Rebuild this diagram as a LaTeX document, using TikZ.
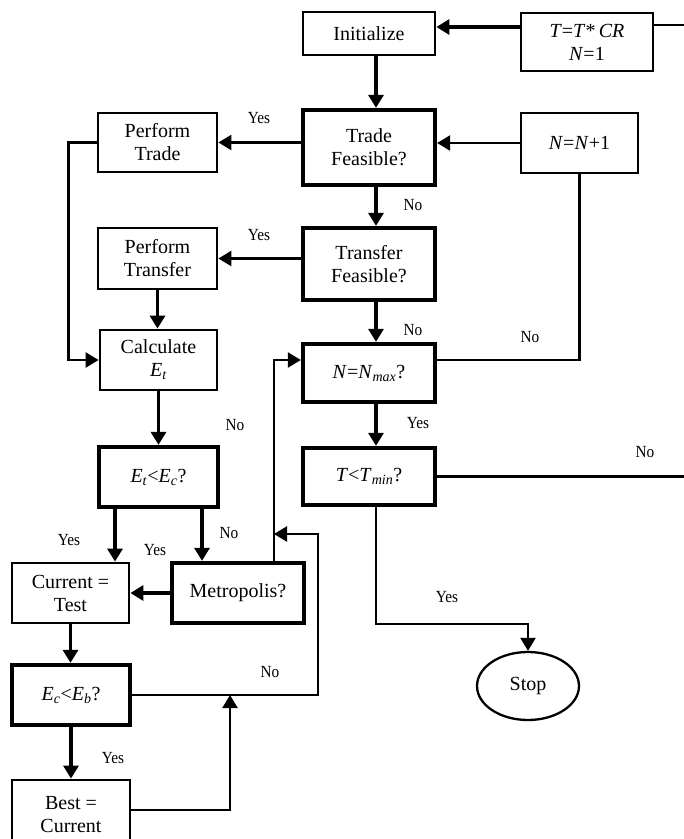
\documentclass[tikz,border=0pt]{standalone}
\usepackage{fontspec}
\setmainfont{Liberation Serif}
\newfontfamily\branchfont[FakeStretch=0.9]{Liberation Serif}
\usetikzlibrary{arrows.meta,shapes.geometric}
\begin{document}
\begin{tikzpicture}[x=1pt,y=-1pt,
  box/.style={draw, rectangle, line width=2.8pt, align=center, inner sep=2pt,
    font=\fontsize{20}{23}\selectfont},
  dbox/.style={box, line width=4.3pt},
  tip/.style={-{Triangle[length=13pt,width=15pt]}},
  flow/.style={line width=3.2pt, tip},
  loop/.style={line width=2.3pt, tip},
  plain/.style={line width=2.3pt},
  lbl/.style={font=\branchfont\fontsize{17}{19}\selectfont, inner sep=0pt}]
\useasboundingbox (0,0) rectangle (684,839);
\clip (0,0) rectangle (684,839);

% main column
\node[box,  minimum width=132pt, minimum height=43pt] (init) at (369,33.5) {Initialize};
\node[box,  minimum width=132pt, minimum height=58pt] (tcr) at (587,42)
  {\textit{T}=\textit{T}*\,\textit{CR}\\\textit{N}=1};
\node[dbox, minimum width=132pt, minimum height=75pt] (trade) at (369,147.5) {Trade\\Feasible?};
\node[box,  minimum width=117pt, minimum height=60pt] (nn1) at (579.5,143) {\textit{N}=\textit{N}+1};
\node[dbox, minimum width=132pt, minimum height=72pt] (transfer) at (369,264) {Transfer\\Feasible?};
\node[dbox, minimum width=132pt, minimum height=58pt] (nmax) at (369,373)
  {\textit{N}=\textit{N}\textsubscript{\textit{max}}?};
\node[dbox, minimum width=132pt, minimum height=57pt] (tmin) at (369,476.5)
  {\textit{T}<\textit{T}\textsubscript{\textit{min}}?};

% left column
\node[box,  minimum width=119pt, minimum height=59pt] (ptrade) at (157.5,142.5) {Perform\\Trade};
\node[box,  minimum width=119pt, minimum height=61pt] (ptransfer) at (157.5,258.5) {Perform\\Transfer};
\node[box,  minimum width=117pt, minimum height=60pt] (calc) at (158.5,360)
  {Calculate\\\textit{E}\textsubscript{\textit{t}}};
\node[dbox, minimum width=119pt, minimum height=60pt] (etec) at (158.5,477)
  {\textit{E}\textsubscript{\textit{t}}<\textit{E}\textsubscript{\textit{c}}?};
\node[box,  minimum width=117pt, minimum height=60pt] (curtest) at (70.5,593) {Current =\\Test};
\node[dbox, minimum width=132pt, minimum height=60pt] (metro) at (238,593) {Metropolis?};
\node[dbox, minimum width=118pt, minimum height=60pt] (eceb) at (71,695)
  {\textit{E}\textsubscript{\textit{c}}<\textit{E}\textsubscript{\textit{b}}?};
\node[box,  minimum width=118pt, minimum height=70pt] (best) at (71,815) {Best =\\Current};
\node[draw, ellipse, line width=2.3pt, minimum width=102pt, minimum height=68pt,
  font=\fontsize{20}{23}\selectfont] (stop) at (528,686) {Stop};

% junction points on connectors
\coordinate (j1) at (274,534);
\coordinate (k1) at (318,534);
\coordinate (j2) at (230,695);

% connectors of the main column
\draw[flow] ([yshift=15pt]tcr.west) coordinate (a1) -- (a1 -| init.east);
\draw[plain] ([yshift=17pt]tcr.east) -- ++(60,0) |- (tmin.east);
\draw[flow] ([xshift=7pt]init.south) coordinate (c1) -- (c1 |- trade.north);
\draw[flow] ([xshift=7pt]trade.south) coordinate (c2) -- (c2 |- transfer.north);
\draw[flow] ([xshift=7pt]transfer.south) coordinate (c3) -- (c3 |- nmax.north);
\draw[flow] ([xshift=7pt]nmax.south) coordinate (c4) -- (c4 |- tmin.north);
\draw[loop] (nn1.west) -- (nn1.west -| trade.east);
\draw[plain] ([yshift=13pt]nmax.east) -| (nn1.south);
\draw[loop] ([xshift=7pt]tmin.south) -- ++(0,117) -| (stop.north);

% connectors of the left column
\draw[loop] (trade.west |- ptrade.east) -- (ptrade.east);
\draw[loop] (transfer.west |- ptransfer.east) -- (ptransfer.east);
\draw[loop] (ptrade.west) -- ++(-28,0) |- (calc.west);
\draw[flow] (ptransfer.south) -- (ptransfer.south |- calc.north);
\draw[flow] (calc.south) -- (etec.north);
\draw[flow] ([xshift=-43.5pt]etec.south) coordinate (c5) -- (c5 |- curtest.north);
\draw[flow] ([xshift=43.5pt]etec.south) coordinate (c6) -- (c6 |- metro.north);
\draw[flow] (metro.west) -- (curtest.east);
\draw[loop] ([xshift=36pt]metro.north) |- ([yshift=13pt]nmax.west);
\draw[loop] (eceb.east) -| (k1) -- (j1);
\draw[flow] (curtest.south) -- (curtest.south |- eceb.north);
\draw[flow] (eceb.south) -- (eceb.south |- best.north);
\draw[loop] ([yshift=5pt]best.east) -| (j2);

% branch labels
\node[lbl] (l1) at (259,118) {Yes};
\node[lbl] (l2) at (259,235) {Yes};
\node[lbl] (l3) at (413,205) {No};
\node[lbl] (l4) at (413,330) {No};
\node[lbl] (l5) at (530,337) {No};
\node[lbl] (l6) at (418,423) {Yes};
\node[lbl] (l7) at (645,452) {No};
\node[lbl] (l8) at (235,425) {No};
\node[lbl] (l9) at (69,540) {Yes};
\node[lbl] (l10) at (155,550) {Yes};
\node[lbl] (l11) at (229,533) {No};
\node[lbl] (l12) at (270,672) {No};
\node[lbl] (l13) at (113,758) {Yes};
\node[lbl] (l14) at (447,597) {Yes};
\end{tikzpicture}
\end{document}
